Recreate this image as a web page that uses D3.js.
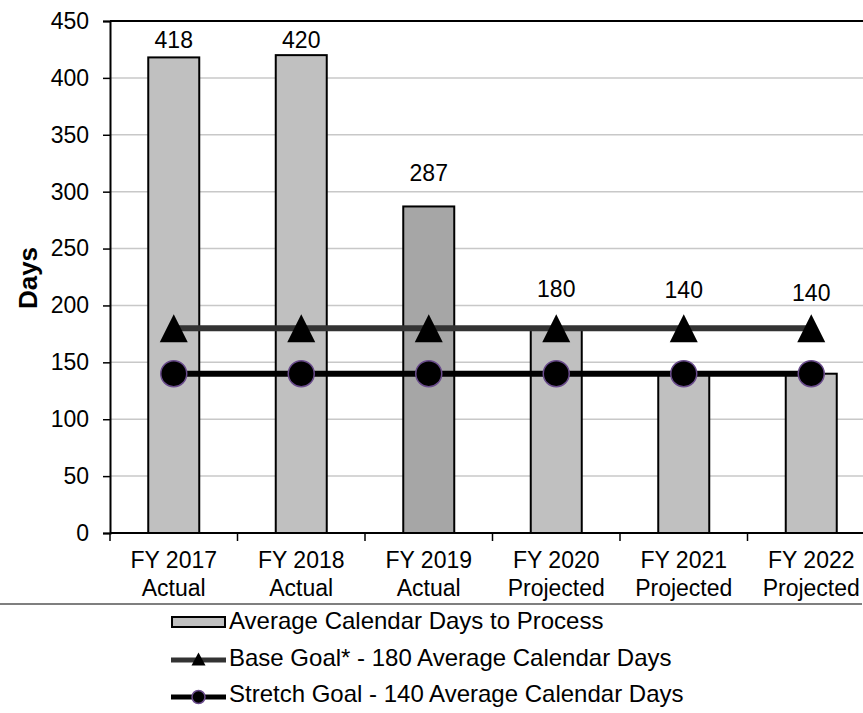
<!DOCTYPE html>
<html>
<head>
<meta charset="utf-8">
<script src="https://cdn.jsdelivr.net/npm/d3@7"></script>
<style>
  html, body { margin: 0; padding: 0; background: #fff; }
  svg { display: block; font-family: "Liberation Sans", Arial, sans-serif; }
</style>
</head>
<body>
<svg id="chart" width="863" height="713"></svg>
<script>
// Fiscal years and their status line
const categories = ["FY 2017", "FY 2018", "FY 2019", "FY 2020", "FY 2021", "FY 2022"];
const categoryStatus = ["Actual", "Actual", "Actual", "Projected", "Projected", "Projected"];

// Average calendar days to process, per fiscal year
const daysToProcess = [418, 420, 287, 180, 140, 140];

// Goal lines
const baseGoal = [180, 180, 180, 180, 180, 180];
const stretchGoal = [140, 140, 140, 140, 140, 140];

// Axis ticks
const yTicks = [0, 50, 100, 150, 200, 250, 300, 350, 400, 450];

// Legend entries
const legendLabels = [
  "Average Calendar Days to Process",
  "Base Goal* - 180 Average Calendar Days",
  "Stretch Goal - 140 Average Calendar Days"
];

// ---- layout / styling ----
const svg = d3.select("#chart");
const plot = { left: 110, right: 875, top: 21, bottom: 533 };
const FONT = 23;
const barFill = "#c0c0c0";
const barFillHighlight = "#a6a6a6";
const highlighted = new Set(["FY 2019"]);
const labelLift = [9.5, 7, 25, 31, 30, 27];   // px above the mark for each value label

const x = d3.scaleBand().domain(categories).range([plot.left, plot.right]).paddingInner(0.6).paddingOuter(0.3);
const xBand = d3.scaleBand().domain(categories).range([plot.left, plot.right]);
const y = d3.scaleLinear().domain([0, 450]).range([plot.bottom, plot.top]);
const cx = c => xBand(c) + xBand.bandwidth() / 2;

// gridlines
svg.append("g")
  .selectAll("line")
  .data(yTicks.filter(t => t > 0 && t < 450))
  .join("line")
  .attr("x1", plot.left).attr("x2", plot.right)
  .attr("y1", d => y(d)).attr("y2", d => y(d))
  .attr("stroke", "#c8c8c8").attr("stroke-width", 1.5);

// top border of plot area
svg.append("line")
  .attr("x1", plot.left).attr("x2", plot.right)
  .attr("y1", y(450)).attr("y2", y(450))
  .attr("stroke", "#000").attr("stroke-width", 2);

// bars
svg.append("g")
  .selectAll("rect")
  .data(categories)
  .join("rect")
  .attr("x", d => x(d))
  .attr("width", x.bandwidth())
  .attr("y", (d, i) => y(daysToProcess[i]))
  .attr("height", (d, i) => y(0) - y(daysToProcess[i]))
  .attr("fill", d => highlighted.has(d) ? barFillHighlight : barFill)
  .attr("stroke", "#000").attr("stroke-width", 2);

// y axis
const yAxis = d3.axisLeft(y).tickValues(yTicks).tickSize(7).tickPadding(14).tickFormat(d3.format("d"));
const gy = svg.append("g").attr("transform", `translate(${plot.left},0)`).call(yAxis);
gy.select(".domain").attr("stroke", "#000").attr("stroke-width", 2);
gy.selectAll(".tick line").attr("stroke", "#000").attr("stroke-width", 1.5);
gy.selectAll(".tick text").attr("font-size", FONT).attr("fill", "#000")
  .attr("font-family", "Liberation Sans, Arial, sans-serif");

// x axis baseline with boundary ticks
svg.append("line")
  .attr("x1", plot.left).attr("x2", plot.right)
  .attr("y1", y(0)).attr("y2", y(0))
  .attr("stroke", "#000").attr("stroke-width", 2);
svg.append("g")
  .selectAll("line")
  .data(categories)
  .join("line")
  .attr("x1", d => xBand(d)).attr("x2", d => xBand(d))
  .attr("y1", y(0)).attr("y2", y(0) + 8)
  .attr("stroke", "#000").attr("stroke-width", 1.5);

// category labels (two lines)
const xl = svg.append("g").attr("font-size", FONT).attr("text-anchor", "middle").attr("fill", "#000");
xl.selectAll("text.cat")
  .data(categories)
  .join("text").attr("class", "cat")
  .attr("x", d => cx(d)).attr("y", y(0) + 35)
  .text(d => d);
xl.selectAll("text.status")
  .data(categories)
  .join("text").attr("class", "status")
  .attr("x", d => cx(d)).attr("y", y(0) + 63)
  .text((d, i) => categoryStatus[i]);

// y axis title
svg.append("text")
  .attr("transform", `translate(37,${y(225) + 1}) rotate(-90)`)
  .attr("text-anchor", "middle")
  .attr("font-size", 26).attr("font-weight", "bold")
  .text("Days");

// goal lines
const line = d3.line().x(d => cx(d[0])).y(d => y(d[1]));
svg.append("path")
  .datum(categories.map((c, i) => [c, baseGoal[i]]))
  .attr("d", line).attr("fill", "none")
  .attr("stroke", "#333333").attr("stroke-width", 6);
svg.append("path")
  .datum(categories.map((c, i) => [c, stretchGoal[i]]))
  .attr("d", line).attr("fill", "none")
  .attr("stroke", "#000").attr("stroke-width", 6);

// markers
const tri = (w, h) => `M0,${-h / 2}L${w / 2},${h / 2}L${-w / 2},${h / 2}Z`;
svg.append("g")
  .selectAll("path")
  .data(categories)
  .join("path")
  .attr("transform", (d, i) => `translate(${cx(d)},${y(baseGoal[i])})`)
  .attr("d", tri(28, 28))
  .attr("fill", "#000");
svg.append("g")
  .selectAll("circle")
  .data(categories)
  .join("circle")
  .attr("cx", d => cx(d)).attr("cy", (d, i) => y(stretchGoal[i]))
  .attr("r", 13)
  .attr("fill", "#000").attr("stroke", "#6a4c8c").attr("stroke-width", 1.5);

// value labels
svg.append("g")
  .attr("font-size", FONT).attr("text-anchor", "middle").attr("fill", "#000")
  .selectAll("text")
  .data(categories)
  .join("text")
  .attr("x", d => cx(d))
  .attr("y", (d, i) => y(Math.max(daysToProcess[i], baseGoal[i])) - labelLift[i])
  .text((d, i) => daysToProcess[i]);

// separator above legend
svg.append("line")
  .attr("x1", 0).attr("x2", 862)
  .attr("y1", 604).attr("y2", 604)
  .attr("stroke", "#7f7f7f").attr("stroke-width", 2);

// legend
const lg = svg.append("g").attr("font-size", 24);
const rowY = [629, 666, 702];
const swX0 = 171, swX1 = 226, swMid = 198.5;
lg.append("rect")
  .attr("x", swX0 + 1).attr("y", rowY[0] - 12).attr("width", swX1 - swX0 - 2).attr("height", 10)
  .attr("fill", barFill).attr("stroke", "#000").attr("stroke-width", 2);
lg.append("line")
  .attr("x1", swX0).attr("x2", swX1).attr("y1", rowY[1] - 6).attr("y2", rowY[1] - 6)
  .attr("stroke", "#333333").attr("stroke-width", 5);
lg.append("path")
  .attr("transform", `translate(${swMid},${rowY[1] - 7})`)
  .attr("d", tri(14, 13)).attr("fill", "#000");
lg.append("line")
  .attr("x1", swX0).attr("x2", swX1).attr("y1", rowY[2] - 5).attr("y2", rowY[2] - 5)
  .attr("stroke", "#000").attr("stroke-width", 5);
lg.append("circle")
  .attr("cx", swMid).attr("cy", rowY[2] - 5).attr("r", 6.5)
  .attr("fill", "#000").attr("stroke", "#6a4c8c").attr("stroke-width", 1.5);
lg.selectAll("text")
  .data(legendLabels)
  .join("text")
  .attr("x", 229).attr("y", (d, i) => rowY[i])
  .text(d => d);
</script>
</body>
</html>
